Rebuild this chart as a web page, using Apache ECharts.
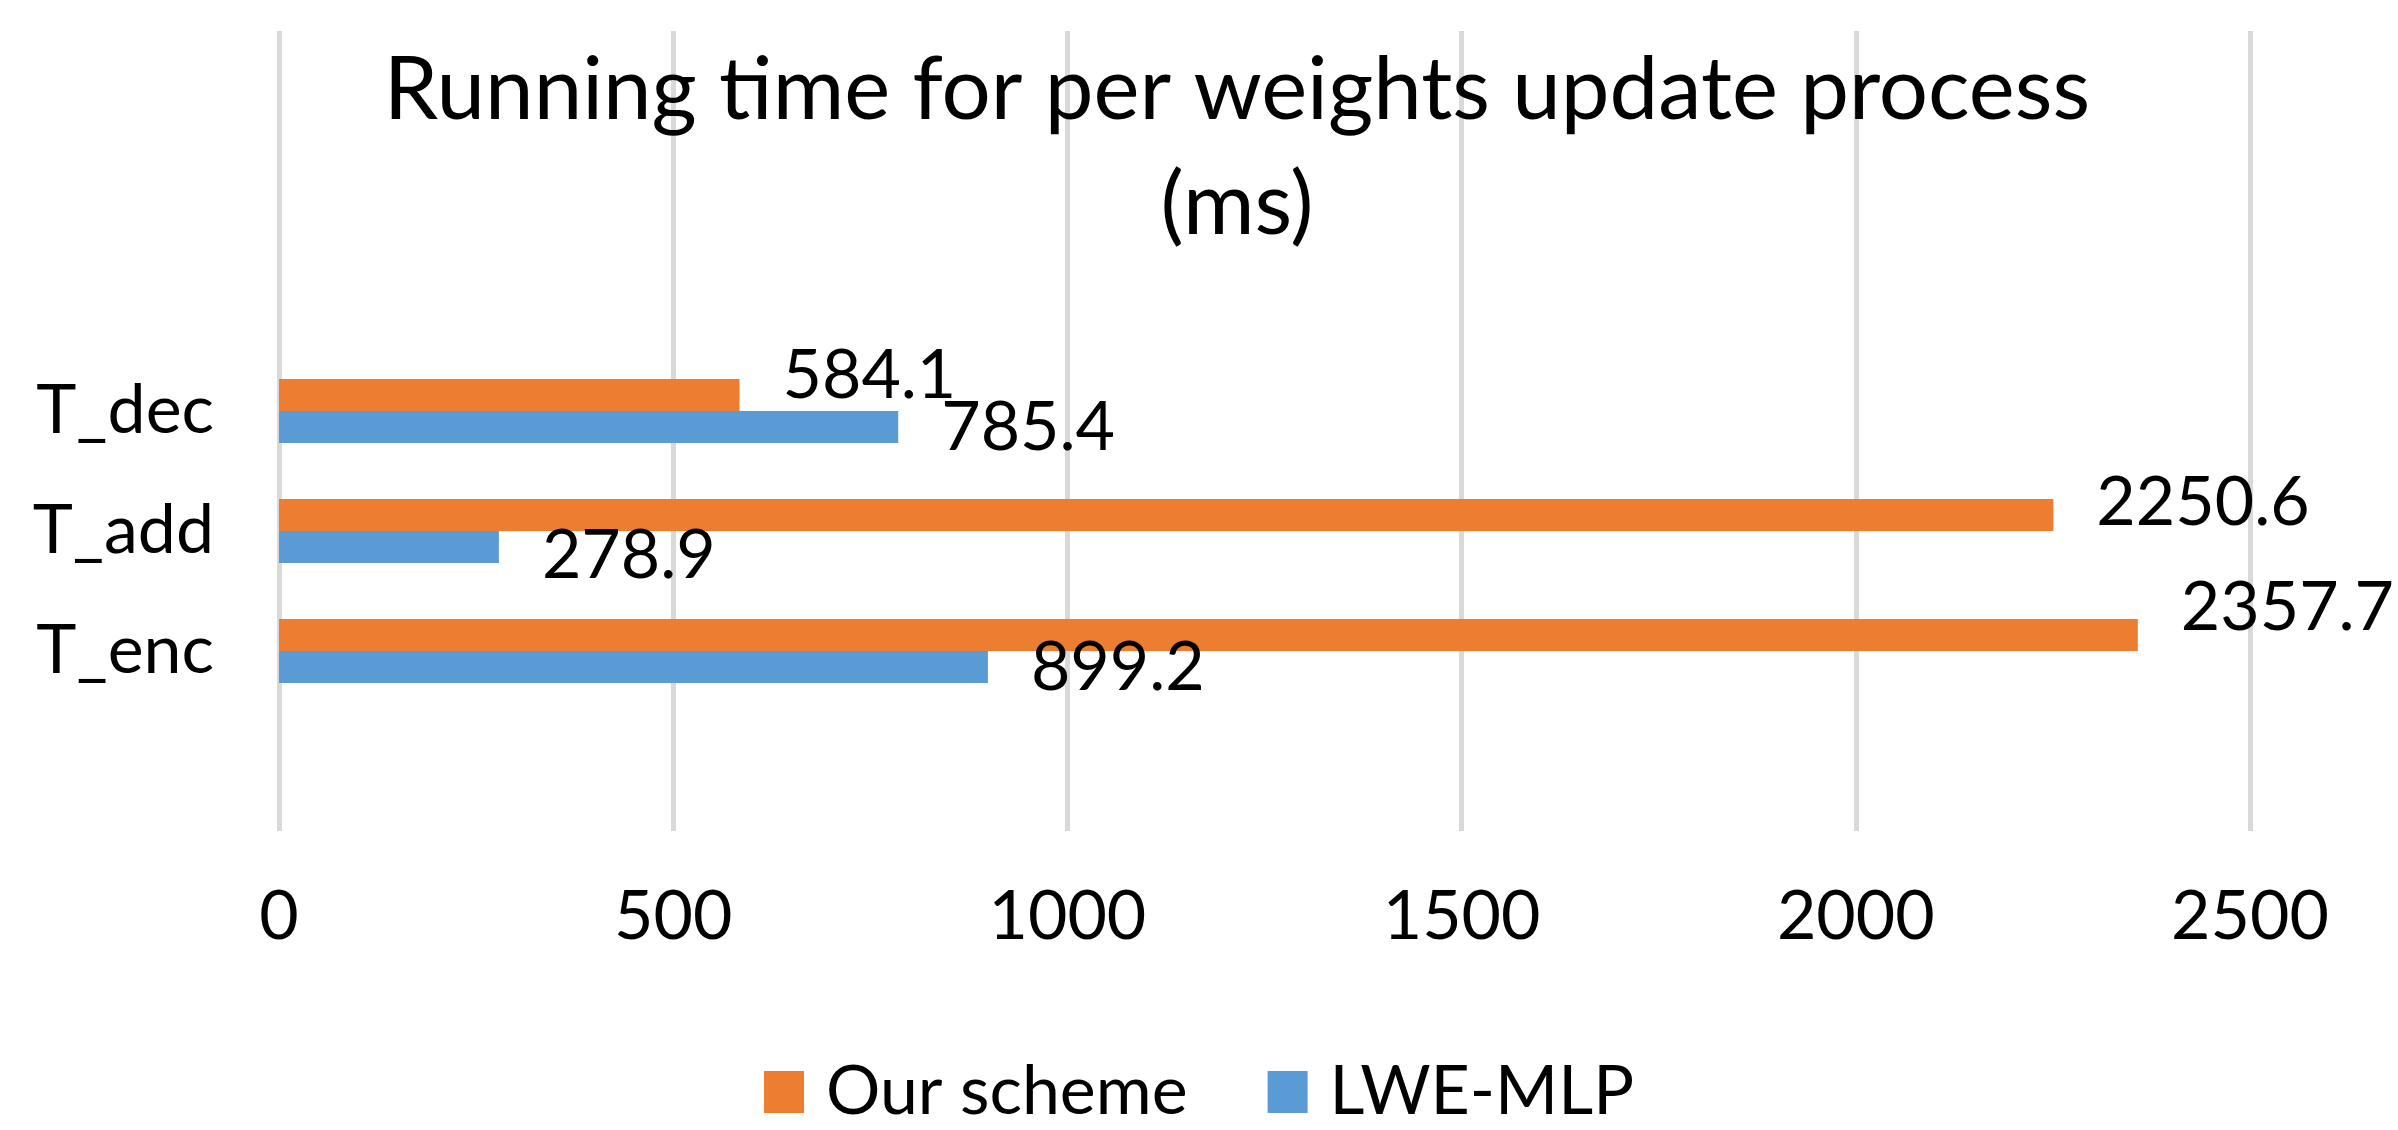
<!DOCTYPE html>
<html>
<head>
<meta charset="utf-8">
<script src="https://cdn.jsdelivr.net/npm/echarts@6/dist/echarts.min.js"></script>
<style>
html,body{margin:0;padding:0;background:#fff;}
#chart{width:2398px;height:1130px;}
</style>
</head>
<body>
<div id="chart"></div>
<script>
const titleText = 'Running time for per weights update process\n(ms)';
const categories = ['T_enc', 'T_add', 'T_dec'];
const seriesNames = ['Our scheme', 'LWE-MLP'];
const ourScheme = [2357.7, 2250.6, 584.1];
const lweMlp = [899.2, 278.9, 785.4];
const xTicks = [0, 500, 1000, 1500, 2000, 2500];

// label vertical shifts (px), matching the manually moved labels
const ourShift = [-27, -12, -19];
const lweShift = [1, 9, 1];

const FONT = 'Lato';
const FS = 68;
const chart = echarts.init(document.getElementById('chart'));

function withLabels(values, shifts) {
  return values.map((v, i) => ({
    value: v,
    label: { offset: [0, shifts[i]] }
  }));
}

const option = {
  backgroundColor: '#ffffff',
  animation: false,
  title: {
    text: titleText,
    left: 1237,
    top: 33,
    padding: 0,
    textAlign: 'center',
    textStyle: { fontFamily: FONT, fontSize: 87, fontWeight: 'normal', color: '#000', lineHeight: 115 }
  },
  legend: {
    data: seriesNames,
    top: 1053,
    left: 'center',
    itemWidth: 40,
    itemHeight: 42,
    itemGap: 80,
    icon: 'rect',
    textStyle: { fontFamily: FONT, fontSize: FS, color: '#000', padding: [0, 0, 0, 17] }
  },
  grid: [
    { left: 279, right: 148, top: 31, bottom: 299, containLabel: false },
    { left: 279, right: 148, top: 351, height: 360, containLabel: false }
  ],
  xAxis: [
    {
      type: 'value', gridIndex: 0, min: xTicks[0], max: xTicks[xTicks.length - 1], interval: 500,
      axisLine: { show: false }, axisTick: { show: false },
      axisLabel: { fontFamily: FONT, fontSize: FS, color: '#000', margin: 52, formatter: v => String(v) },
      splitLine: { show: true, lineStyle: { color: '#d9d9d9', width: 5 } }
    },
    {
      type: 'value', gridIndex: 1, min: xTicks[0], max: xTicks[xTicks.length - 1], interval: 500,
      show: false, splitLine: { show: false }
    }
  ],
  yAxis: [
    { type: 'value', gridIndex: 0, show: false, splitLine: { show: false } },
    {
      type: 'category', gridIndex: 1, data: categories,
      axisLine: { show: false }, axisTick: { show: false },
      axisLabel: { fontFamily: FONT, fontSize: FS, color: '#000', margin: 65 },
      splitLine: { show: false }
    }
  ],
  series: [
    {
      name: seriesNames[0], type: 'bar', xAxisIndex: 1, yAxisIndex: 1,
      data: withLabels(ourScheme, ourShift),
      barWidth: 32, barGap: '0%',
      itemStyle: { color: '#ED7D31' },
      label: { show: true, position: 'right', distance: 43, fontFamily: FONT, fontSize: FS, color: '#000',
        formatter: p => p.value.toFixed(1) }
    },
    {
      name: seriesNames[1], type: 'bar', xAxisIndex: 1, yAxisIndex: 1,
      data: withLabels(lweMlp, lweShift),
      barWidth: 32, barGap: '0%',
      itemStyle: { color: '#5B9BD5' },
      label: { show: true, position: 'right', distance: 43, fontFamily: FONT, fontSize: FS, color: '#000',
        formatter: p => p.value.toFixed(1) }
    }
  ]
};
chart.setOption(option);
</script>
</body>
</html>
